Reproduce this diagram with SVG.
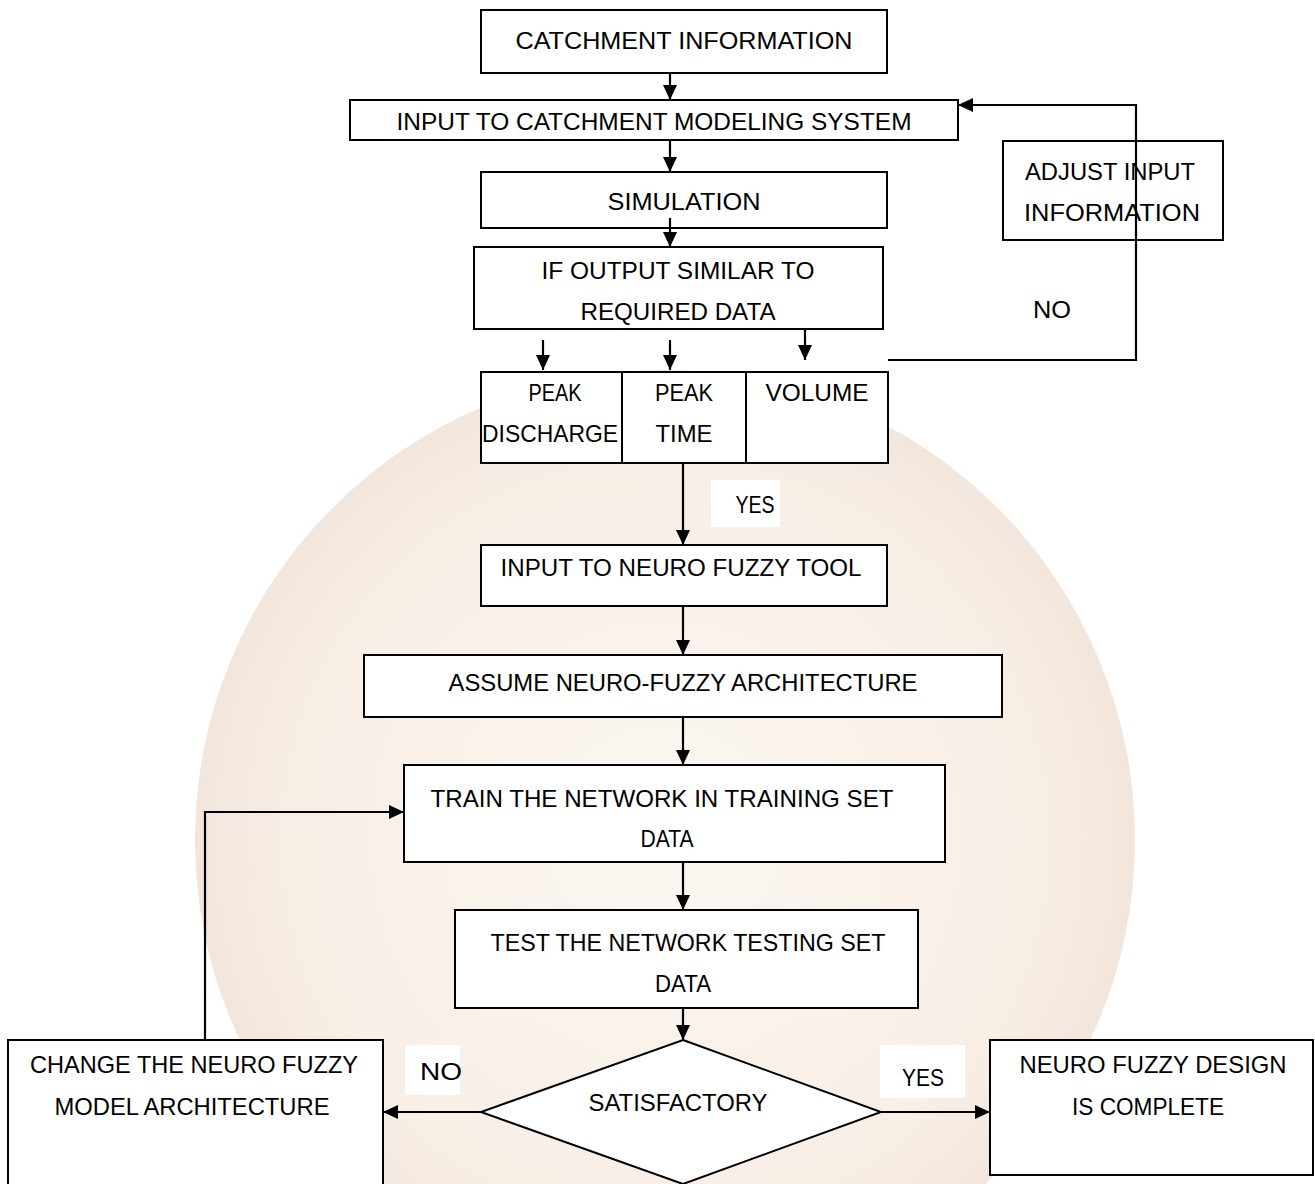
<svg xmlns="http://www.w3.org/2000/svg" width="1315" height="1184" viewBox="0 0 1315 1184">
<style>
.box{fill:#fff;stroke:#000;stroke-width:2}
.lbl{font-family:"Liberation Sans",Arial,sans-serif;font-size:24px;fill:#000;text-anchor:middle}
.con{fill:none;stroke:#000;stroke-width:2.2}
.bg{fill:#fff}
</style>
<defs>
<marker id="ah" markerUnits="userSpaceOnUse" markerWidth="16" markerHeight="14" refX="15" refY="7" orient="auto">
<path d="M0,0 L15,7 L0,14 z" fill="#000"/>
</marker>
<radialGradient id="globe" cx="0.5" cy="0.5" r="0.5">
<stop offset="0" stop-color="#fcf7f2"/>
<stop offset="0.8" stop-color="#f7eee6"/>
<stop offset="1" stop-color="#f2e6dc"/>
</radialGradient>
</defs>
<rect width="1315" height="1184" fill="#fff"/>
<g id="watermark">
<circle cx="665" cy="840" r="470" fill="url(#globe)"/>
</g>
<g id="connectors">
<path class="con" d="M670,73 V100" marker-end="url(#ah)"/>
<path class="con" d="M670,140 V172" marker-end="url(#ah)"/>
<path class="con" d="M670,218 V247" marker-end="url(#ah)"/>
<path class="con" d="M543,340 V370" marker-end="url(#ah)"/>
<path class="con" d="M670,340 V370" marker-end="url(#ah)"/>
<path class="con" d="M805,329 V360" marker-end="url(#ah)"/>
<path class="con" d="M888,360 H1136 V105 H958" marker-end="url(#ah)"/>
<path class="con" d="M683,463 V545" marker-end="url(#ah)"/>
<path class="con" d="M683,606 V655" marker-end="url(#ah)"/>
<path class="con" d="M683,717 V765" marker-end="url(#ah)"/>
<path class="con" d="M683,862 V910" marker-end="url(#ah)"/>
<path class="con" d="M683,1008 V1040" marker-end="url(#ah)"/>
<path class="con" d="M481,1112 H383" marker-end="url(#ah)"/>
<path class="con" d="M881,1112 H990" marker-end="url(#ah)"/>
<path class="con" d="M205,1040 V812 H404" marker-end="url(#ah)"/>
</g>
<g id="n-catchment">
<rect class="box" x="481" y="10" width="406" height="63"/>
<text class="lbl" x="684" y="49" textLength="337" lengthAdjust="spacingAndGlyphs">CATCHMENT INFORMATION</text>
</g>
<g id="n-input-cms">
<rect class="box" x="350" y="100" width="608" height="40"/>
<text class="lbl" x="654" y="130" textLength="515" lengthAdjust="spacingAndGlyphs">INPUT TO CATCHMENT MODELING SYSTEM</text>
</g>
<g id="n-simulation">
<rect class="box" x="481" y="172" width="406" height="56"/>
<text class="lbl" x="684" y="210" textLength="153" lengthAdjust="spacingAndGlyphs">SIMULATION</text>
</g>
<path class="con" d="M670,218 V228"/>
<g id="n-if-output">
<rect class="box" x="474" y="247" width="409" height="82"/>
<text class="lbl" x="678" y="279" textLength="273" lengthAdjust="spacingAndGlyphs">IF OUTPUT SIMILAR TO</text>
<text class="lbl" x="678" y="320" textLength="195" lengthAdjust="spacingAndGlyphs">REQUIRED DATA</text>
</g>
<g id="n-peak-discharge">
<rect class="box" x="481" y="372" width="141" height="91"/>
<text class="lbl" x="555" y="401" textLength="53" lengthAdjust="spacingAndGlyphs">PEAK</text>
<text class="lbl" x="550" y="442" textLength="136" lengthAdjust="spacingAndGlyphs">DISCHARGE</text>
</g>
<g id="n-peak-time">
<rect class="box" x="622" y="372" width="124" height="91"/>
<text class="lbl" x="684" y="401" textLength="58" lengthAdjust="spacingAndGlyphs">PEAK</text>
<text class="lbl" x="684" y="442" textLength="57" lengthAdjust="spacingAndGlyphs">TIME</text>
</g>
<g id="n-volume">
<rect class="box" x="746" y="372" width="142" height="91"/>
<text class="lbl" x="817" y="401" textLength="103" lengthAdjust="spacingAndGlyphs">VOLUME</text>
</g>
<g id="n-adjust">
<rect class="box" x="1003" y="141" width="220" height="99"/>
<text class="lbl" x="1110" y="180" textLength="170" lengthAdjust="spacingAndGlyphs">ADJUST INPUT</text>
<text class="lbl" x="1112" y="221" textLength="176" lengthAdjust="spacingAndGlyphs">INFORMATION</text>
</g>
<path class="con" d="M1136,141 V240"/>
<g id="lbl-no-top">
<text class="lbl" x="1052" y="318" textLength="38" lengthAdjust="spacingAndGlyphs">NO</text>
</g>
<g id="lbl-yes-top">
<rect class="bg" x="711" y="480" width="69" height="47"/>
<text class="lbl" x="755" y="513" textLength="39" lengthAdjust="spacingAndGlyphs">YES</text>
</g>
<g id="n-input-nf">
<rect class="box" x="481" y="545" width="406" height="61"/>
<text class="lbl" x="681" y="576" textLength="361" lengthAdjust="spacingAndGlyphs">INPUT TO NEURO FUZZY TOOL</text>
</g>
<g id="n-assume">
<rect class="box" x="364" y="655" width="638" height="62"/>
<text class="lbl" x="683" y="691" textLength="469" lengthAdjust="spacingAndGlyphs">ASSUME NEURO-FUZZY ARCHITECTURE</text>
</g>
<g id="n-train">
<rect class="box" x="404" y="765" width="541" height="97"/>
<text class="lbl" x="662" y="807" textLength="463" lengthAdjust="spacingAndGlyphs">TRAIN THE NETWORK IN TRAINING SET</text>
<text class="lbl" x="667" y="847" textLength="53" lengthAdjust="spacingAndGlyphs">DATA</text>
</g>
<g id="n-test">
<rect class="box" x="455" y="910" width="463" height="98"/>
<text class="lbl" x="688" y="951" textLength="395" lengthAdjust="spacingAndGlyphs">TEST THE NETWORK TESTING SET</text>
<text class="lbl" x="683" y="992" textLength="56" lengthAdjust="spacingAndGlyphs">DATA</text>
</g>
<g id="n-satisfactory">
<path class="box" d="M683,1040 L881,1112 L683,1184 L481,1112 z"/>
<text class="lbl" x="678" y="1111" textLength="179" lengthAdjust="spacingAndGlyphs">SATISFACTORY</text>
</g>
<g id="lbl-no-bottom">
<rect class="bg" x="405" y="1045" width="55" height="50"/>
<text class="lbl" x="441" y="1080" textLength="42" lengthAdjust="spacingAndGlyphs">NO</text>
</g>
<g id="lbl-yes-bottom">
<rect class="bg" x="880" y="1045" width="85" height="53"/>
<text class="lbl" x="923" y="1086" textLength="42" lengthAdjust="spacingAndGlyphs">YES</text>
</g>
<g id="n-change">
<rect class="box" x="8" y="1040" width="375" height="160"/>
<text class="lbl" x="194" y="1073" textLength="328" lengthAdjust="spacingAndGlyphs">CHANGE THE NEURO FUZZY</text>
<text class="lbl" x="192" y="1115" textLength="275" lengthAdjust="spacingAndGlyphs">MODEL ARCHITECTURE</text>
</g>
<g id="n-complete">
<rect class="box" x="990" y="1040" width="323" height="135"/>
<text class="lbl" x="1153" y="1073" textLength="267" lengthAdjust="spacingAndGlyphs">NEURO FUZZY DESIGN</text>
<text class="lbl" x="1148" y="1115" textLength="152" lengthAdjust="spacingAndGlyphs">IS COMPLETE</text>
</g>
</svg>
